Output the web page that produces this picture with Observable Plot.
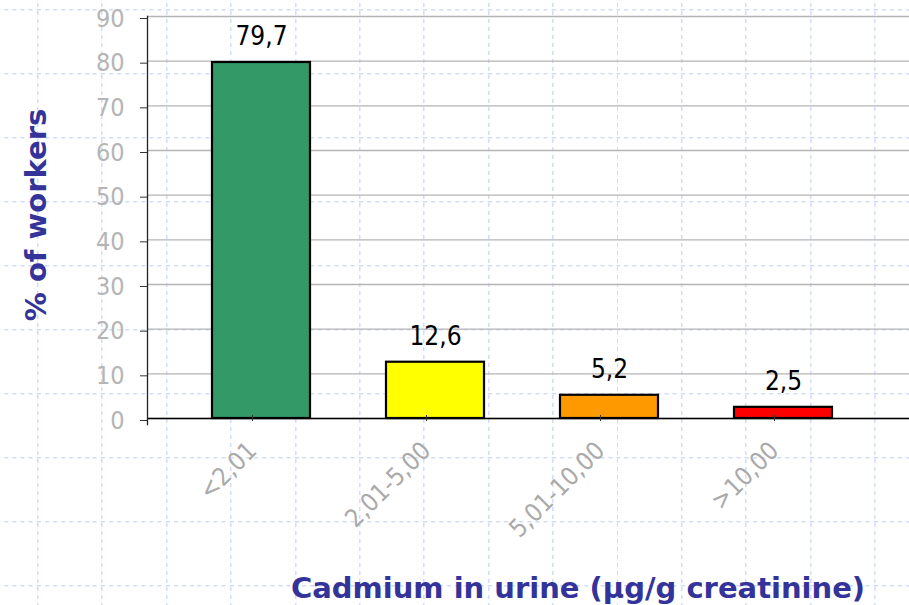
<!DOCTYPE html>
<html>
<head>
<meta charset="utf-8">
<script src="https://cdn.jsdelivr.net/npm/d3@7"></script>
<script src="https://cdn.jsdelivr.net/npm/@observablehq/plot@0.6"></script>
<style>
  html, body { margin: 0; padding: 0; background: #ffffff; }
  #chart {
    width: 909px; height: 605px; position: relative; overflow: hidden;
    background-color: #ffffff;
    background-image: url("data:image/svg+xml;utf8,<svg xmlns='http://www.w3.org/2000/svg' width='64.4' height='64' viewBox='0 0 64.4 64' preserveAspectRatio='none'><path d='M0 0.75H64.4' stroke='%23d2dbfb' stroke-width='1.5' stroke-dasharray='4 4' fill='none'/><path d='M0.75 2V64' stroke='%23d2dbfb' stroke-width='1.5' stroke-dasharray='4 4' fill='none'/></svg>");
    background-size: 64.4px 64px;
    background-position: 37px 9px;
  }
</style>
</head>
<body>
<div id="chart"></div>
<script>
const categories = ["<2,01", "2,01-5,00", "5,01-10,00", ">10,00"];
const values = [79.7, 12.6, 5.2, 2.5];
const colors = ["#339966", "#ffff00", "#ff9900", "#ff0000"];
const yTicks = [0, 10, 20, 30, 40, 50, 60, 70, 80, 90];
const yTitle = "% of workers";
const xTitle = "Cadmium in urine (µg/g creatinine)";

const data = categories.map((c, i) => ({cat: c, value: values[i], color: colors[i]}));
const fmt = v => String(v).replace(".", ",");
const cond = "'DejaVu Sans Condensed', 'DejaVu Sans', sans-serif";
const bold = "'DejaVu Sans', sans-serif";

const plot = Plot.plot({
  width: 909,
  height: 605,
  marginTop: 16,
  marginBottom: 187,
  marginLeft: 147,
  marginRight: 0,
  style: {background: "transparent", fontFamily: cond, fontSize: "25px", overflow: "visible"},
  x: {domain: categories, paddingInner: 0.437, paddingOuter: 0.408, align: 0.458, label: null},
  y: {domain: [0, 90], label: null},
  color: {type: "identity"},
  marks: [
    Plot.gridY(yTicks, {stroke: "#b4b4b4", strokeOpacity: 1, strokeWidth: 1.3}),
    Plot.barY(data, {x: "cat", y: "value", fill: "color", stroke: "#000", strokeWidth: 2.2}),
    Plot.ruleY([0], {stroke: "#000", strokeWidth: 1.3}),
    Plot.frame({anchor: "left", stroke: "#222", strokeWidth: 1.3, insetBottom: -6}),
    Plot.axisY({ticks: yTicks, tickSize: 7, tickPadding: 16, stroke: "#333", fill: "#b5b5b5", fontSize: 25, fontFamily: cond, dy: 2, label: null}),
    Plot.axisX({tickSize: 6, tickRotate: -45, tickPadding: 25, dx: -9, dy: -3, stroke: "#333", fill: "#aaaaaa", fontSize: 25, fontFamily: cond, label: null}),
    Plot.text(data, {x: "cat", y: "value", text: d => fmt(d.value), dy: -26, fill: "#000", fontSize: 26, fontFamily: cond}),
    Plot.text([yTitle], {frameAnchor: "left", textAnchor: "middle", rotate: -90, dx: -111, dy: -2.5, fill: "#333399", fontSize: 29, fontWeight: "bold", fontFamily: bold}),
    Plot.text([xTitle], {frameAnchor: "bottom", dx: 49.5, dy: 179, fill: "#333399", fontSize: 29, fontWeight: "bold", fontFamily: bold})
  ]
});
document.getElementById("chart").appendChild(plot);
</script>
</body>
</html>
